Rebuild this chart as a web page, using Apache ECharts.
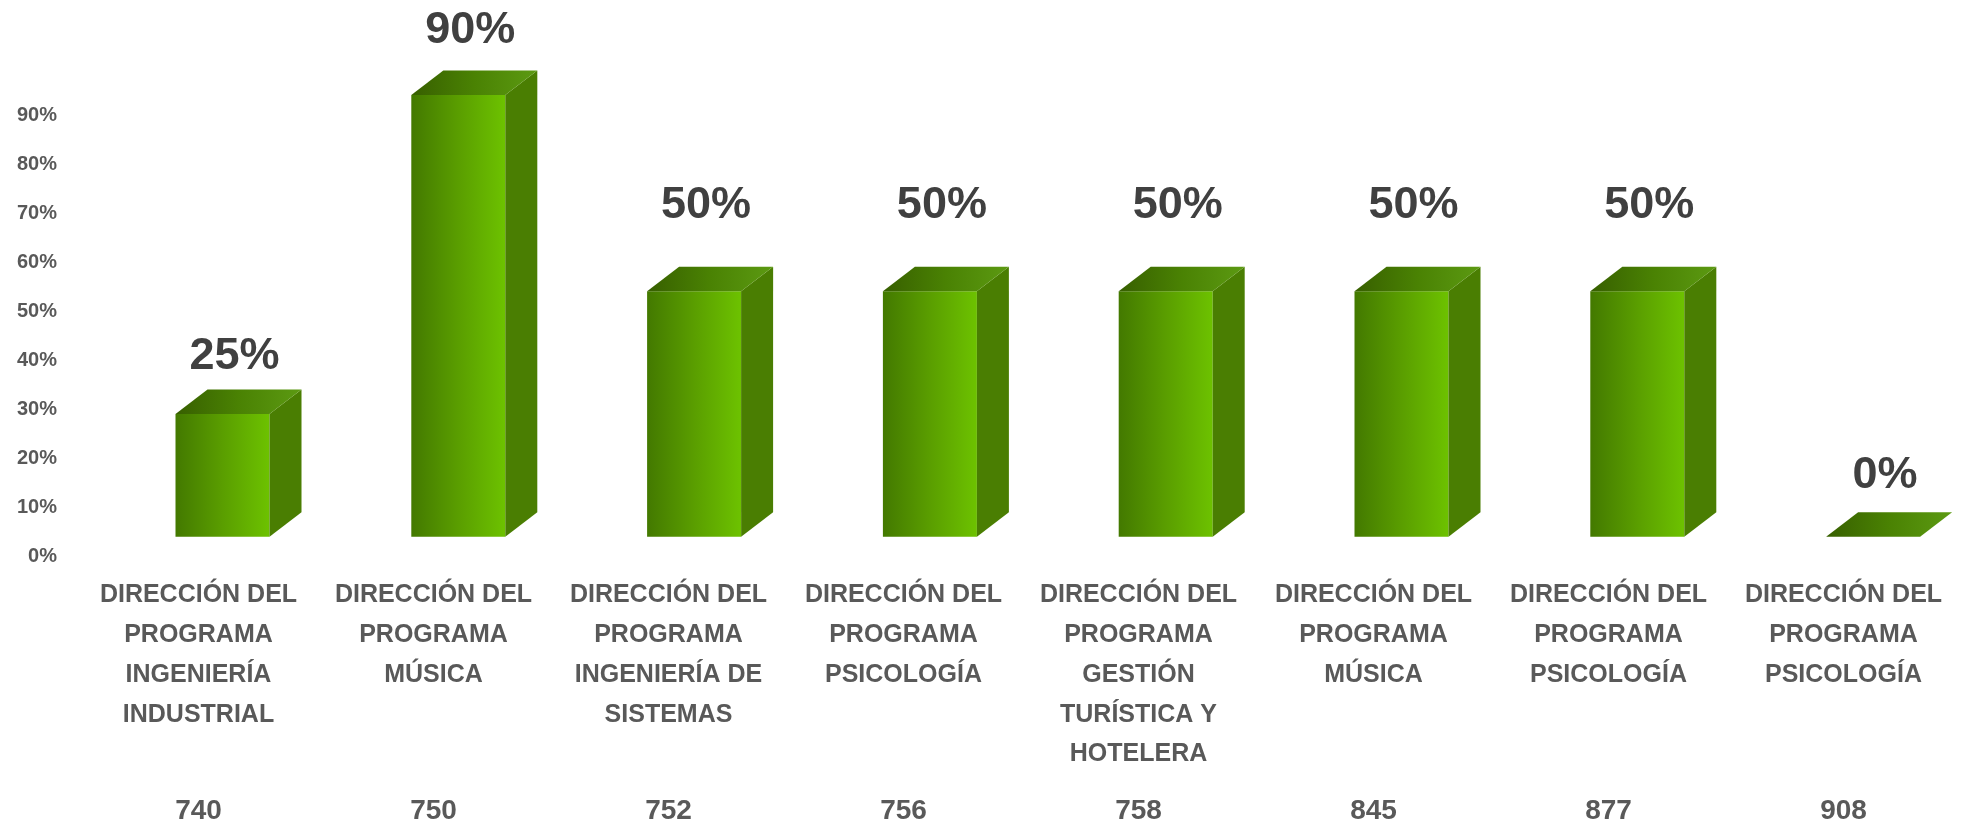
<!DOCTYPE html>
<html>
<head>
<meta charset="utf-8">
<script src="https://cdn.jsdelivr.net/npm/echarts@6/dist/echarts.min.js"></script>
<style>
html,body{margin:0;padding:0;background:#fff;}
#chart{width:1962px;height:826px;}
</style>
</head>
<body>
<div id="chart"></div>
<script>
// ---- data ----
const categories = [
  "DIRECCIÓN DEL\nPROGRAMA\nINGENIERÍA\nINDUSTRIAL",
  "DIRECCIÓN DEL\nPROGRAMA\nMÚSICA",
  "DIRECCIÓN DEL\nPROGRAMA\nINGENIERÍA DE\nSISTEMAS",
  "DIRECCIÓN DEL\nPROGRAMA\nPSICOLOGÍA",
  "DIRECCIÓN DEL\nPROGRAMA\nGESTIÓN\nTURÍSTICA Y\nHOTELERA",
  "DIRECCIÓN DEL\nPROGRAMA\nMÚSICA",
  "DIRECCIÓN DEL\nPROGRAMA\nPSICOLOGÍA",
  "DIRECCIÓN DEL\nPROGRAMA\nPSICOLOGÍA"
];
const codes = ["740", "750", "752", "756", "758", "845", "877", "908"];
const values = [0.25, 0.90, 0.50, 0.50, 0.50, 0.50, 0.50, 0.00];
const yTicks = [0, 0.1, 0.2, 0.3, 0.4, 0.5, 0.6, 0.7, 0.8, 0.9];

// ---- styling (label spacing above each bar, as placed in the original) ----
const LABEL_GAP = [10, 17, 39, 39, 39, 39, 39, 14];

const FONT = "Liberation Sans";
const chart = echarts.init(document.getElementById('chart'), null, {renderer: 'canvas'});

function grad(stops) {
  return new echarts.graphic.LinearGradient(0, 0, 1, 0, stops.map((c, k) => ({offset: k / (stops.length - 1), color: c})));
}

function renderItem(params, api) {
  const i = api.value(0), v = api.value(1);
  const base = api.coord([i, 0]);
  const top = api.coord([i, v]);
  const band = api.size([1, 0])[0];
  const w = band * 0.40;
  const dx = 32, dy = 24.5, lift = 20;
  const cx = base[0] + 24 + i * 0.8;
  const yb = base[1] - lift;
  const yt = top[1] - lift;
  const x0 = cx - w / 2, x1 = cx + w / 2;
  const children = [];
  if (yb - yt > 0.5) {
    children.push({
      type: 'rect',
      shape: {x: x0, y: yt, width: w, height: yb - yt},
      style: {fill: grad(['#437900', '#5a9e00', '#6dc200'])}
    });
    children.push({
      type: 'polygon',
      shape: {points: [[x1, yt], [x1 + dx, yt - dy], [x1 + dx, yb - dy], [x1, yb]]},
      style: {fill: '#4a7e02'}
    });
  }
  children.push({
    type: 'polygon',
    shape: {points: [[x0, yt], [x0 + dx, yt - dy], [x1 + dx, yt - dy], [x1, yt]]},
    style: {fill: grad(['#375f00', '#4a8203', '#5c9a12'])}
  });
  children.push({
    type: 'text',
    style: {
      text: Math.round(v * 100) + '%',
      x: cx + dx / 2 - 4,
      y: yt - dy - LABEL_GAP[i],
      align: 'center',
      verticalAlign: 'bottom',
      fill: '#404040',
      font: 'bold 45px "' + FONT + '"'
    }
  });
  return {type: 'group', children: children};
}

const option = {
  backgroundColor: '#ffffff',
  animation: false,
  grid: [
    {left: 81, right: 1, top: 115, bottom: 269.3},
    {left: 81, right: 1, top: 115, bottom: 269.3}
  ],
  xAxis: [
    {
      type: 'category', gridIndex: 0, data: categories,
      axisLine: {show: false}, axisTick: {show: false},
      axisLabel: {
        interval: 0, margin: 19, color: '#595959',
        fontFamily: FONT, fontWeight: 'bold', fontSize: 25, lineHeight: 39.7, align: 'center'
      }
    },
    {
      type: 'category', gridIndex: 1, data: codes,
      axisLine: {show: false}, axisTick: {show: false},
      axisLabel: {
        interval: 0, margin: 243, color: '#595959',
        fontFamily: FONT, fontWeight: 'bold', fontSize: 28, lineHeight: 29
      }
    }
  ],
  yAxis: [
    {
      type: 'value', gridIndex: 0, min: 0, max: 0.9, interval: 0.1,
      splitLine: {show: false}, axisLine: {show: false}, axisTick: {show: false},
      axisLabel: {
        margin: 24, color: '#595959', fontFamily: FONT, fontWeight: 'bold', fontSize: 20,
        formatter: v => Math.round(v * 100) + '%',
        customValues: yTicks
      }
    },
    {type: 'value', gridIndex: 1, show: false, min: 0, max: 1}
  ],
  series: [{
    type: 'custom',
    xAxisIndex: 0, yAxisIndex: 0,
    renderItem: renderItem,
    clip: false,
    data: values.map((v, i) => [i, v])
  }]
};
chart.setOption(option);
</script>
</body>
</html>
